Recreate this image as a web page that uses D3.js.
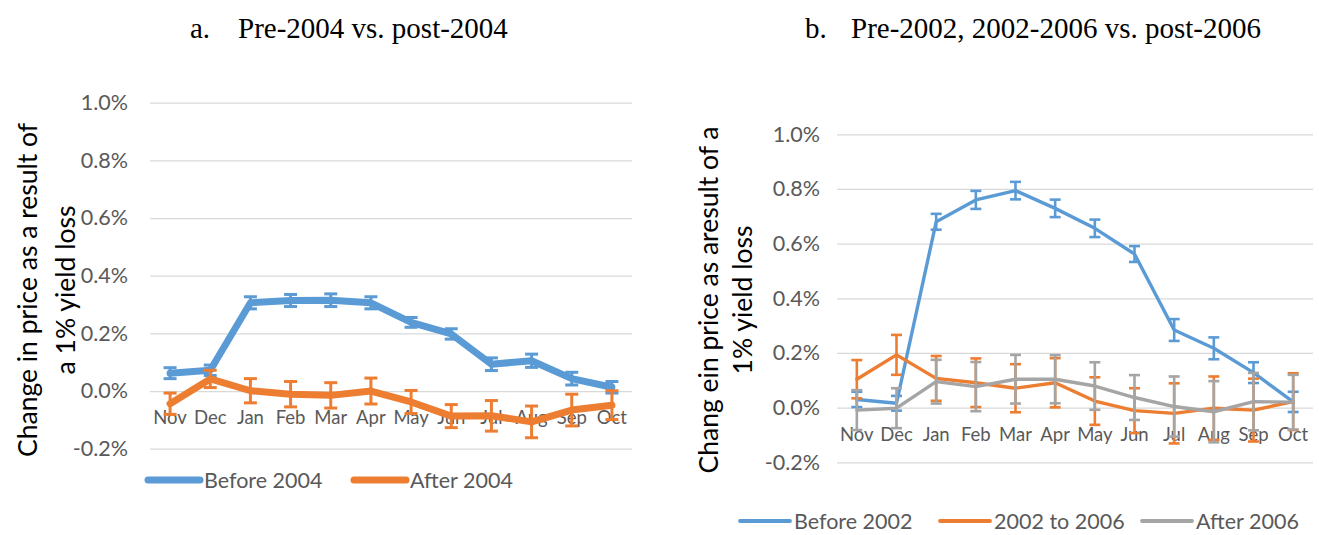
<!DOCTYPE html>
<html>
<head>
<meta charset="utf-8">
<script src="https://cdn.jsdelivr.net/npm/d3@7"></script>
<style>
  html, body { margin: 0; padding: 0; background: #fff; }
  svg { display: block; }
</style>
</head>
<body>
<svg id="chart" width="1319" height="535"></svg>
<script>
// Months of the crop marketing year
const months = ["Nov", "Dec", "Jan", "Feb", "Mar", "Apr", "May", "Jun", "Jul", "Aug", "Sep", "Oct"];
// Y ticks, in percent
const yTicks = [-0.2, 0.0, 0.2, 0.4, 0.6, 0.8, 1.0];

// Panel a: price change (%) per 1% yield loss, with standard-error bars
const before2004 = [0.062, 0.072, 0.306, 0.314, 0.315, 0.306, 0.238, 0.198, 0.093, 0.105, 0.043, 0.013];
const before2004Err = [0.019, 0.018, 0.021, 0.021, 0.022, 0.021, 0.017, 0.018, 0.022, 0.023, 0.022, 0.02];
const after2004 = [-0.044, 0.042, 0.001, -0.011, -0.015, 0.000, -0.038, -0.087, -0.086, -0.107, -0.066, -0.049];
const after2004Err = [0.037, 0.03, 0.042, 0.044, 0.044, 0.045, 0.04, 0.04, 0.053, 0.055, 0.055, 0.05];

// Panel b
const before2002 = [0.030, 0.016, 0.680, 0.760, 0.794, 0.729, 0.656, 0.562, 0.284, 0.217, 0.128, 0.021];
const before2002Err = [0.028, 0.027, 0.029, 0.033, 0.032, 0.032, 0.032, 0.029, 0.04, 0.04, 0.038, 0.037];
const from2002to2006 = [0.104, 0.193, 0.107, 0.091, 0.071, 0.091, 0.024, -0.011, -0.021, -0.002, -0.009, 0.022];
const from2002to2006Err = [0.07, 0.073, 0.082, 0.089, 0.088, 0.09, 0.087, 0.082, 0.11, 0.116, 0.115, 0.104];
const after2006 = [-0.009, -0.002, 0.095, 0.077, 0.104, 0.104, 0.079, 0.037, 0.004, -0.015, 0.022, 0.02];
const after2006Err = [0.073, 0.073, 0.08, 0.09, 0.089, 0.088, 0.087, 0.082, 0.11, 0.112, 0.105, 0.1];

const BLUE = "#5B9BD5", ORANGE = "#ED7D31", GRAY = "#A5A5A5";
const TEXT = "#595959", GRID = "#D9D9D9";
const SANS = "Lato, 'Open Sans', sans-serif";
const SERIF = "'Liberation Serif', 'DejaVu Serif', serif";

const svg = d3.select("#chart");
const fmt = d => d.toFixed(1) + "%";

function panel(cfg) {
  const g = svg.append("g");
  const x = d3.scaleBand().domain(months).range([cfg.left, cfg.right]);
  const y = d3.scaleLinear().domain([-0.2, 1.0]).range([cfg.bottom, cfg.top]);
  const cx = m => x(m) + x.bandwidth() / 2;

  // title
  g.append("text").attr("x", cfg.titleX).attr("y", cfg.titleY)
    .attr("font-family", SERIF).attr("font-size", 29).attr("fill", "#000")
    .text(cfg.tag);
  g.append("text").attr("x", cfg.titleX + cfg.tabW).attr("y", cfg.titleY)
    .attr("font-family", SERIF).attr("font-size", 29).attr("fill", "#000")
    .text(cfg.title);

  // gridlines + y labels
  const yAxis = g.append("g").attr("transform", `translate(${cfg.left},0)`)
    .call(d3.axisLeft(y).tickValues(yTicks).tickFormat(fmt)
      .tickSize(-(cfg.right - cfg.left)).tickPadding(cfg.left - cfg.tickEnd));
  yAxis.select(".domain").remove();
  yAxis.selectAll(".tick line").attr("stroke", GRID).attr("stroke-width", 1.3);
  yAxis.selectAll(".tick text").attr("fill", TEXT).attr("font-family", SANS).attr("font-size", 21.5);

  // month labels hang below the zero line
  const xAxis = g.append("g").attr("transform", `translate(0,${y(0)})`)
    .call(d3.axisBottom(x).tickSize(0).tickPadding(cfg.xPad));
  xAxis.select(".domain").remove();
  xAxis.selectAll(".tick text").attr("fill", TEXT).attr("font-family", SANS).attr("font-size", 18.5);

  // axis title, two lines
  cfg.yTitle.forEach((line, i) => {
    g.append("text")
      .attr("transform", `translate(${cfg.yTitleX[i]},${cfg.yTitleY}) rotate(-90)`)
      .attr("text-anchor", "middle")
      .attr("font-family", SANS).attr("font-size", cfg.yTitleSize).attr("fill", "#000")
      .text(line);
  });

  // series
  const line = d3.line().x((d, i) => cx(months[i])).y(d => y(d));
  cfg.series.forEach(s => {
    g.append("path").datum(s.values)
      .attr("d", line).attr("fill", "none").attr("stroke", s.color)
      .attr("stroke-width", cfg.lineW).attr("stroke-linejoin", "round").attr("stroke-linecap", "round");
    const eb = g.append("g").attr("stroke", s.color).attr("stroke-width", cfg.errW);
    s.values.forEach((v, i) => {
      const px = cx(months[i]);
      const hi = y(v + s.err[i]), lo = y(v - s.err[i]);
      eb.append("line").attr("x1", px).attr("x2", px).attr("y1", hi).attr("y2", lo);
      eb.append("line").attr("x1", px - cfg.cap / 2).attr("x2", px + cfg.cap / 2).attr("y1", hi).attr("y2", hi);
      eb.append("line").attr("x1", px - cfg.cap / 2).attr("x2", px + cfg.cap / 2).attr("y1", lo).attr("y2", lo);
    });
  });

  // legend
  cfg.series.forEach((s, i) => {
    const lx = cfg.legendX[i];
    g.append("line").attr("x1", lx).attr("x2", lx + cfg.legendLen)
      .attr("y1", cfg.legendY).attr("y2", cfg.legendY)
      .attr("stroke", s.color).attr("stroke-width", cfg.legendW).attr("stroke-linecap", "round");
    g.append("text").attr("x", lx + cfg.legendLen + 4).attr("y", cfg.legendY)
      .attr("dy", "0.35em").attr("font-family", SANS).attr("font-size", 21.5).attr("fill", TEXT)
      .text(s.name);
  });
}

panel({
  left: 150, right: 632, top: 102.7, bottom: 448.7, tickEnd: 128, xPad: 20,
  titleX: 190, titleY: 38, tag: "a.", tabW: 48, title: "Pre-2004 vs. post-2004",
  yTitle: ["Change in price as a result of", "a 1% yield loss"], yTitleX: [37, 75], yTitleY: 290, yTitleSize: 26.5,
  lineW: 7, errW: 3, cap: 13,
  legendX: [148, 354], legendLen: 52, legendY: 480, legendW: 7,
  series: [
    { name: "Before 2004", color: BLUE, values: before2004, err: before2004Err },
    { name: "After 2004", color: ORANGE, values: after2004, err: after2004Err }
  ]
});

panel({
  left: 837, right: 1313, top: 134.3, bottom: 462.3, tickEnd: 820, xPad: 20,
  titleX: 805, titleY: 38, tag: "b.", tabW: 46, title: "Pre-2002, 2002-2006 vs. post-2006",
  yTitle: ["Chang ein price as aresult of a", "1% yield loss"], yTitleX: [718, 752], yTitleY: 300, yTitleSize: 26.5,
  lineW: 3.4, errW: 2.6, cap: 11,
  legendX: [740, 940, 1142], legendLen: 50, legendY: 521, legendW: 3.8,
  series: [
    { name: "Before 2002", color: BLUE, values: before2002, err: before2002Err },
    { name: "2002 to 2006", color: ORANGE, values: from2002to2006, err: from2002to2006Err },
    { name: "After 2006", color: GRAY, values: after2006, err: after2006Err }
  ]
});
</script>
</body>
</html>
